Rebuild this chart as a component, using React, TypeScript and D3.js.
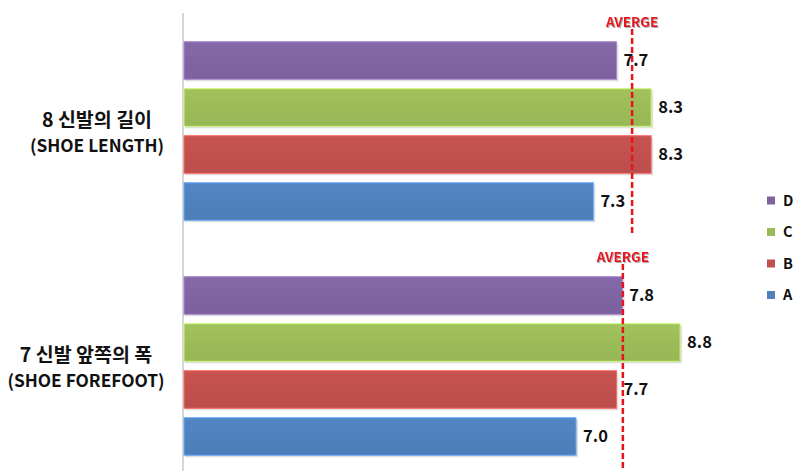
import React from "react";
import * as d3 from "d3";

const CATEGORIES = ["8 신발의 길이|(SHOE LENGTH)", "7 신발 앞쪽의 폭|(SHOE FOREFOOT)"];
const SERIES = ["D", "C", "B", "A"];
const COLORS = ["#8064A2", "#9BBB59", "#C0504D", "#4F81BD"];
const VALUES_D = [7.7, 7.8];
const VALUES_C = [8.3, 8.8];
const VALUES_B = [8.3, 7.7];
const VALUES_A = [7.3, 7.0];
const AVERAGES = [7.97, 7.81];
const AVG_LABEL = "AVERGE";

const SERIES_VALUES = [VALUES_D, VALUES_C, VALUES_B, VALUES_A];

const W = 809;
const H = 471;
const AXIS_X = 183;
const LABEL_CX = [97, 86];

export default function App() {
  const x = d3.scaleLinear().domain([0.2, 10]).range([AXIS_X, AXIS_X + 9.8 * 57.8]);
  const groupScale = d3.scaleBand<string>().domain(CATEGORIES).range([13, 483]);
  const inner = d3
    .scaleBand<string>()
    .domain(SERIES)
    .range([24, 212])
    .paddingInner(0.2)
    .paddingOuter(0.1);
  const legendY = d3.scalePoint<string>().domain(SERIES).range([200.5, 295]);
  const font = "'Noto Sans CJK KR', 'Noto Sans', sans-serif";

  return (
    <svg
      width={W}
      height={H}
      style={{ position: "absolute", left: 0, top: 0, display: "block", background: "#fff" }}
      fontFamily={font}
    >
      <defs>
        {COLORS.map((c, i) => (
          <linearGradient key={i} id={`g${i}`} x1="0" y1="0" x2="0" y2="1">
            <stop offset="0" stopColor={d3.color(c)!.brighter(0.1).formatHex()} />
            <stop offset="1" stopColor={d3.color(c)!.darker(0.08).formatHex()} />
          </linearGradient>
        ))}
        <filter id="ts" x="-10%" y="-20%" width="130%" height="150%">
          <feDropShadow dx="1" dy="1" stdDeviation="0.6" floodColor="#999" floodOpacity="0.8" />
        </filter>
      </defs>

      <line x1={AXIS_X} x2={AXIS_X} y1={13} y2={H} stroke="#c8c8c8" strokeWidth={1.5} />

      {CATEGORIES.map((cat, gi) => {
        const g0 = groupScale(cat)!;
        const [l1, l2] = cat.split("|");
        const cy = g0 + groupScale.bandwidth() / 2;
        const avgX = x(AVERAGES[gi]);
        return (
          <g key={cat}>
            <text x={LABEL_CX[gi]} y={cy - 4} textAnchor="middle" fontSize={19.5} fontWeight="bold" fill="#111">
              {l1}
            </text>
            <text x={LABEL_CX[gi]} y={cy + 21} textAnchor="middle" fontSize={17.3} fontWeight="bold" fill="#111">
              {l2}
            </text>
            {SERIES.map((s, si) => {
              const v = SERIES_VALUES[si][gi];
              const y = g0 + inner(s)!;
              const bh = inner.bandwidth();
              const xe = x(v);
              return (
                <g key={s}>
                  <rect x={AXIS_X + 2} y={y + 2} width={xe - AXIS_X} height={bh} fill="#d6d6d6" opacity={0.8} />
                  <rect
                    x={AXIS_X + 1}
                    y={y}
                    width={xe - AXIS_X - 1}
                    height={bh}
                    fill={`url(#g${si})`}
                    stroke={d3.color(COLORS[si])!.brighter(0.8).formatHex()}
                    strokeWidth={1}
                  />
                  <text
                    x={xe + 7}
                    y={y + bh / 2}
                    dy="0.36em"
                    fontSize={16.5}
                    fontWeight="bold"
                    fill="#111"
                  >
                    {v.toFixed(1)}
                  </text>
                </g>
              );
            })}
            <line
              x1={avgX}
              x2={avgX}
              y1={g0 + 16}
              y2={g0 + 220}
              stroke="#E8141C"
              strokeWidth={2.5}
              strokeDasharray="6,3"
            />
            <text
              x={avgX}
              y={g0 + 13.5}
              textAnchor="middle"
              fontSize={13.5}
              fontWeight="bold"
              fill="#E8141C"
              filter="url(#ts)"
            >
              {AVG_LABEL}
            </text>
          </g>
        );
      })}

      {SERIES.map((s, si) => (
        <g key={s} transform={`translate(0,${legendY(s)})`}>
          <rect x={767} y={-4} width={8} height={8} fill={COLORS[si]} />
          <text x={783} y={0} dy="0.36em" fontSize={14.5} fontWeight="bold" fill="#111">
            {s}
          </text>
        </g>
      ))}
    </svg>
  );
}
